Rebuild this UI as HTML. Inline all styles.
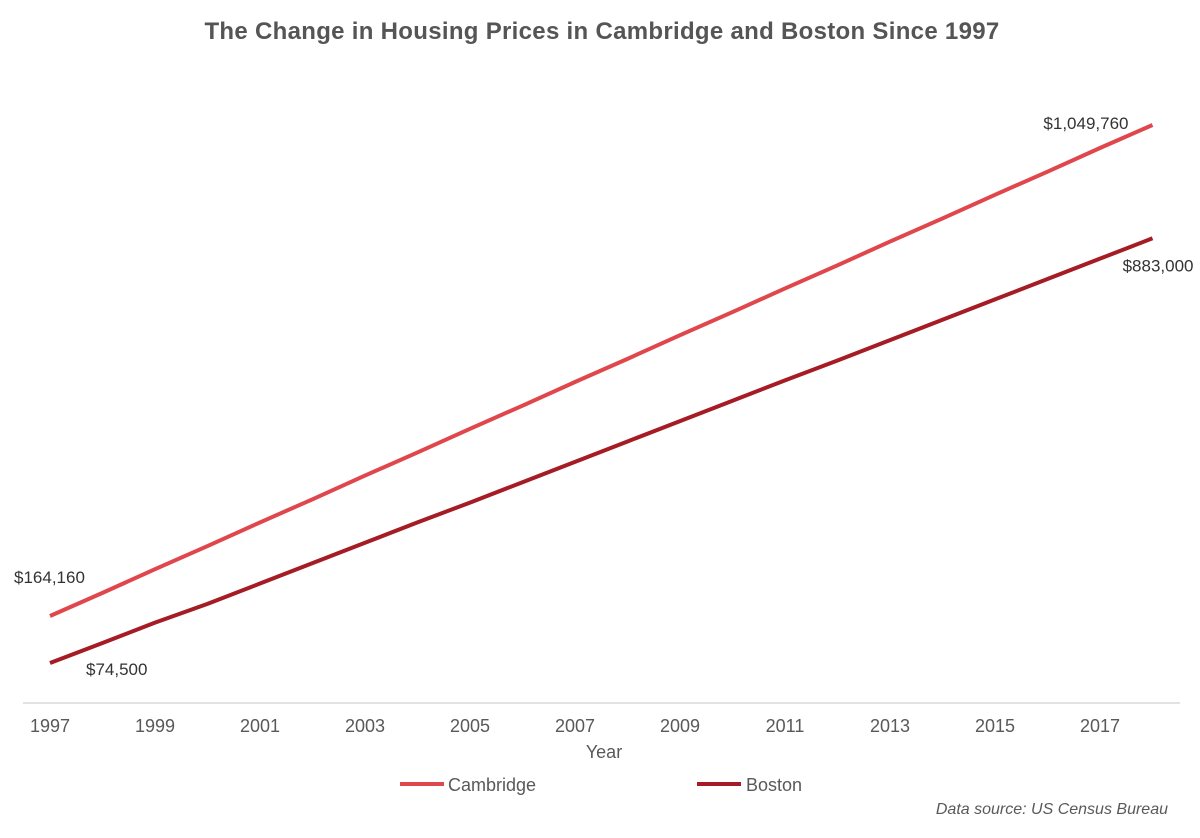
<!DOCTYPE html>
<html><head><meta charset="utf-8"><style>
body{margin:0;background:#fff;}
svg text{font-family:"Liberation Sans",sans-serif;}
</style></head><body>
<svg width="1200" height="833" viewBox="0 0 1200 833" id="chart">
<text x="602" y="39" text-anchor="middle" font-size="24" font-weight="bold" letter-spacing="0.3" fill="#555">The Change in Housing Prices in Cambridge and Boston Since 1997</text>
<line x1="23" y1="703" x2="1180" y2="703" stroke="#d9d9d9" stroke-width="1.5"/>
<g id="ticks"></g>
<text x="604" y="758" text-anchor="middle" font-size="18" fill="#595959">Year</text>
<g id="series"></g>
<g id="labels" font-size="17" fill="#333"></g>
<line x1="400" y1="784" x2="444" y2="784" stroke="#e0474c" stroke-width="4"/>
<text x="448" y="791" font-size="18" fill="#595959">Cambridge</text>
<line x1="697" y1="784" x2="741" y2="784" stroke="#a51c24" stroke-width="4"/>
<text x="746" y="791" font-size="18" fill="#595959">Boston</text>
<text x="1168" y="814" text-anchor="end" font-size="16" font-style="italic" fill="#595959">Data source: US Census Bureau</text>
</svg>
<script>
const years=[1997,1998,1999,2000,2001,2002,2003,2004,2005,2006,2007,2008,2009,2010,2011,2012,2013,2014,2015,2016,2017,2018];
const cambridge=[158000,200000,243000,285000,328000,370000,413000,455000,498000,540000,583000,625000,668000,710000,753000,795000,838000,880000,923000,965000,1008000,1049760];
const boston=[72600,109000,146000,180000,217000,254000,291000,328000,364000,401000,438000,475000,512000,549000,586000,622000,659000,696000,733000,770000,807000,844000];
const tickYears=[1997,1999,2001,2003,2005,2007,2009,2011,2013,2015,2017];
const endLabels=["$164,160","$1,049,760","$74,500","$883,000"];
const NS="http://www.w3.org/2000/svg";
const xs=y=>50+(y-1997)*52.5;
const ys=v=>703-v*0.0005506;
const tg=document.getElementById('ticks');
tickYears.forEach(t=>{
 const e=document.createElementNS(NS,'text');
 e.setAttribute('x',xs(t));e.setAttribute('y',732);e.setAttribute('text-anchor','middle');
 e.setAttribute('font-size','18');e.setAttribute('fill','#595959');e.textContent=t;
 
 
 tg.appendChild(e);
});
const sg=document.getElementById('series');
function line(vals,color,name){
 const p=document.createElementNS(NS,'polyline');
 p.setAttribute('points',vals.map((v,i)=>xs(years[i])+','+ys(v)).join(' '));
 p.setAttribute('fill','none');p.setAttribute('stroke',color);p.setAttribute('stroke-width','4');
 p.setAttribute('stroke-linejoin','round');
 
 
 sg.appendChild(p);
}
line(cambridge,'#e0474c','cambridge-line');
line(boston,'#a51c24','boston-line');
const lg=document.getElementById('labels');
const n=years.length-1;
const lp=[[xs(years[0])-36,ys(cambridge[0])-33,'start'],[xs(years[n])-24,ys(cambridge[n])+4,'end'],[xs(years[0])+36,ys(boston[0])+12,'start'],[xs(years[n])+41,ys(boston[n])+33,'end']];
endLabels.forEach((t,i)=>{
 const e=document.createElementNS(NS,'text');
 e.setAttribute('x',lp[i][0]);e.setAttribute('y',lp[i][1]);e.setAttribute('text-anchor',lp[i][2]);
 e.textContent=t;
 
 
 lg.appendChild(e);
});
</script>
</body></html>
